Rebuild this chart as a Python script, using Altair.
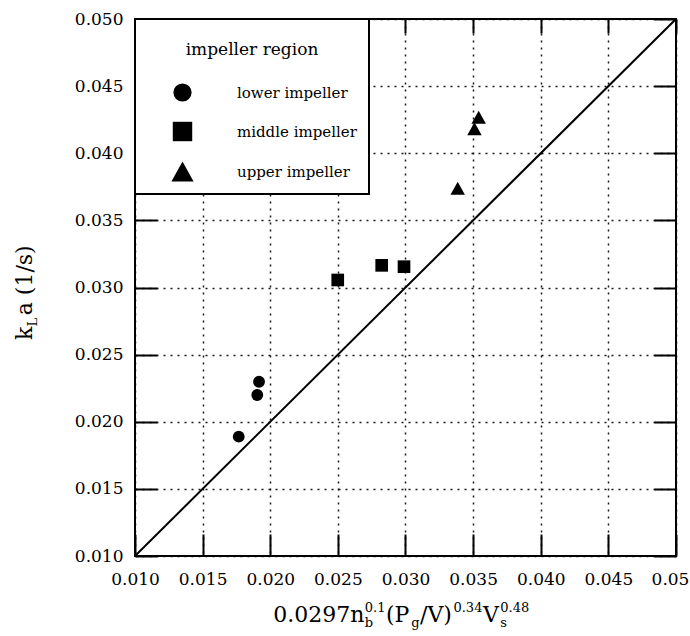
import altair as alt
import pandas as pd

# kLa measurements against the correlation, per impeller region
region = ["lower impeller", "lower impeller", "lower impeller",
          "middle impeller", "middle impeller", "middle impeller",
          "upper impeller", "upper impeller", "upper impeller"]
correlation = [0.01767, 0.01904, 0.01917, 0.02499, 0.02824, 0.02989, 0.03386, 0.03510, 0.03541]
kla = [0.01889, 0.02199, 0.02298, 0.03056, 0.03165, 0.03155, 0.03739, 0.04183, 0.04268]

# parity line kLa = correlation
parity_x = [0.010, 0.050]
parity_y = [0.010, 0.050]

tick_values = [0.010, 0.015, 0.020, 0.025, 0.030, 0.035, 0.040, 0.045, 0.050]
region_order = ["lower impeller", "middle impeller", "upper impeller"]

# styling
FONT = "DejaVu Serif"
W, H = 541, 537
# circle, a slightly enlarged square and a wider triangle (unit-box paths)
shapes = ["circle",
          "M-1.07,-1.07L1.07,-1.07L1.07,1.07L-1.07,1.07Z",
          "M0,-1.1L1.22,1.1L-1.22,1.1Z"]

points_df = pd.DataFrame({"x": correlation, "y": kla, "region": region})
line_df = pd.DataFrame({"x": parity_x, "y": parity_y})

xs = alt.Scale(domain=[0.010, 0.050], nice=False, zero=False)
ys = alt.Scale(domain=[0.010, 0.050], nice=False, zero=False)

grid_style = dict(grid=True, gridColor="black", gridDash=[2, 5], gridWidth=1.5, gridOpacity=0.9)

line = alt.Chart(line_df).mark_line(color="black", strokeWidth=2).encode(
    x=alt.X("x:Q", scale=xs, axis=alt.Axis(orient="top", values=tick_values, labels=False,
                                            grid=False, domain=False, title=None,
                                            tickSize=alt.ExprRef("-14"))),
    y=alt.Y("y:Q", scale=ys, axis=alt.Axis(orient="right", values=tick_values, labels=False,
                                            grid=False, domain=False, title=None,
                                            tickSize=alt.ExprRef("-22"))),
)

points = alt.Chart(points_df).mark_point(filled=True, opacity=1, color="black", size=140).encode(
    x=alt.X("x:Q", scale=xs, axis=alt.Axis(
        orient="bottom", values=tick_values, domain=False, title=None,
        labelOverlap=False, labelFlush=False,
        labelOffset={"condition": {"test": "datum.value > 0.0499", "value": -6}, "value": 0},
        labelExpr="abs(datum.value - 0.05) < 1e-9 ? '0.05' : format(datum.value, '.3f')",
        tickSize=alt.ExprRef("-22"), labelPadding=37, **grid_style)),
    y=alt.Y("y:Q", scale=ys, axis=alt.Axis(
        orient="left", values=tick_values, domain=False, title=None,
        labelOverlap=False, labelFlush=False,
        labelExpr="format(datum.value, '.3f')",
        tickSize=alt.ExprRef("-22"), labelPadding=34, **grid_style)),
    shape=alt.Shape("region:N", scale=alt.Scale(domain=region_order, range=shapes),
                    legend=alt.Legend(title="impeller region", orient="top-left")),
)


def piece(text, x, y, size, angle=0):
    return alt.Chart(alt.Data(values=[{}])).mark_text(
        text=text, font=FONT, fontSize=size, align="left", baseline="alphabetic",
        angle=angle, color="black"
    ).encode(x=alt.value(x), y=alt.value(y))


# approximate DejaVu Serif advance widths (em)
ADV = {"0": .636, "1": .636, "2": .636, "3": .636, "4": .636, "7": .636, "8": .636,
       "9": .636, ".": .318, " ": .318, "n": .644, "b": .640, "g": .640, "s": .513,
       "(": .390, ")": .390, "P": .733, "/": .337, "V": .770, "k": .611, "L": .712,
       "a": .596}


def width(text, size):
    return sum(ADV.get(c, .6) for c in text) * size


M, S = 22, 13
base = H + 66          # baseline of the x-axis title
sub, sup = base + 5, base - 10

# x-axis title: 0.0297 n_b^0.1 (P_g/V)^0.34 V_s^0.48
runs = [
    [("0.0297n", M, base)],
    [("b", S, sub), ("0.1", S, sup)],
    [("(P", M, base)],
    [("g", S, sub)],
    [("/V)", M, base)],
    [("0.34", S, sup)],
    [("V", M, base)],
    [("s", S, sub), ("0.48", S, sup)],
]
total = sum(max(width(t, s) for t, s, _ in run) + 0.5 for run in runs)
cx = W / 2 - 4 - total / 2
x_title = []
for run in runs:
    for t, s, yy in run:
        x_title.append(piece(t, cx, yy, s))
    cx += max(width(t, s) for t, s, _ in run) + 0.5

# y-axis title: k_L a (1/s), reading upwards
ty_x = -103
ty = 321
y_title = [piece("k", ty_x, ty, M, 270)]
ty -= width("k", M)
y_title.append(piece("L", ty_x + 5, ty, S, 270))
ty -= width("L", S) + 2
y_title.append(piece("a (1/s)", ty_x, ty, M, 270))

chart = alt.layer(line, points, *x_title, *y_title).resolve_axis(
    x="independent", y="independent"
).properties(
    width=W, height=H,
    autosize=alt.AutoSizeParams(type="none"),
    padding={"left": 135, "top": 19, "right": 14, "bottom": 80},
    background="white",
).configure_view(
    stroke="black", strokeWidth=2
).configure_axis(
    labelFont=FONT, labelFontSize=17, labelColor="black",
    tickColor="black", tickWidth=2,
).configure_legend(
    offset=0, padding=12, strokeColor="black", strokeWidth=2, fillColor="white",
    cornerRadius=0, titleFont=FONT, titleFontSize=17, titleFontWeight="normal",
    titleColor="black", titleAnchor="middle",
    titleBaseline="line-top", titleLineHeight=38, titlePadding=35,
    labelFont=FONT, labelFontSize=15, labelColor="black",
    labelOffset=45, symbolOffset=26, symbolSize=330, rowPadding=19,
    symbolFillColor="black", symbolStrokeWidth=0, symbolOpacity=1,
)

chart.save("out.html", embed_options={"renderer": "svg", "actions": False})
